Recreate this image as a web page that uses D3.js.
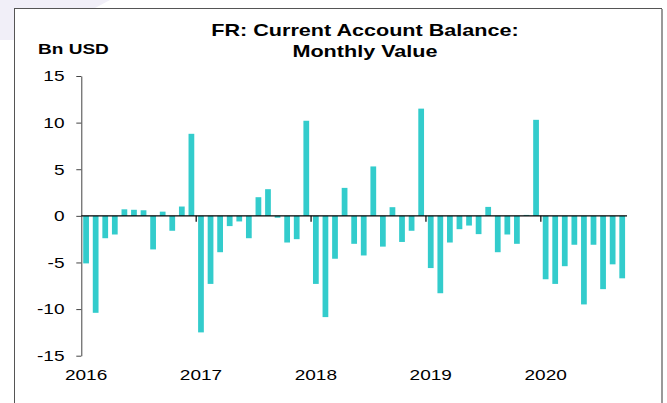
<!DOCTYPE html>
<html>
<head>
<meta charset="utf-8">
<script src="https://cdn.jsdelivr.net/npm/d3@7"></script>
<style>
  body { margin: 0; background: #fff; }
  svg { display: block; font-family: "Liberation Sans", Arial, sans-serif; }
</style>
</head>
<body>
<script>
// monthly current account balance, Bn USD
var years = ["2016", "2017", "2018", "2019", "2020"];
var v2016 = [-5.1, -10.4, -2.4, -2.0, 0.7, 0.65, 0.6, -3.6, 0.45, -1.6, 1.0, 8.8];
var v2017 = [-12.5, -7.3, -3.9, -1.1, -0.6, -2.4, 2.0, 2.86, -0.2, -2.86, -2.5, 10.2];
var v2018 = [-7.3, -10.86, -4.6, 3.0, -3.0, -4.25, 5.3, -3.3, 0.93, -2.8, -1.6, 11.5];
var v2019 = [-5.6, -8.3, -2.86, -1.43, -1.04, -1.96, 0.96, -3.9, -2.0, -3.0, 0.1, 10.3];
var v2020 = [-6.8, -7.3, -5.4, -3.1, -9.5, -3.1, -7.86, -5.2, -6.7];
var yTicks = [-15, -10, -5, 0, 5, 10, 15];

var data = [];
[v2016, v2017, v2018, v2019, v2020].forEach(function(vals, i) {
  vals.forEach(function(v, m) {
    data.push({key: years[i] + "-" + (m + 1), year: years[i], month: m, value: v});
  });
});

var width = 667, height = 403;
var sx = 1.27; // the original's lettering is stretched sideways
var svg = d3.select("body").append("svg").attr("width", width).attr("height", height);

// faint decoration top-left and frame
svg.append("path").attr("d", "M0,0 L110,0 L95,8 L14,8 L14,40 L0,40 Z").attr("fill", "#f1eff8");
svg.append("rect").attr("x", 14.5).attr("y", 8.5).attr("width", 647).attr("height", 420)
   .attr("fill", "none").attr("stroke", "#555").attr("stroke-width", 1);
svg.append("line").attr("x1", 662).attr("x2", 662).attr("y1", 9).attr("y2", 403)
   .attr("stroke", "#999").attr("stroke-width", 2);

var pad = 0.4;
var x = d3.scaleBand()
          .domain(data.map(function(d){ return d.key; }))
          .range([81.3, 627])
          .paddingInner(pad)
          .paddingOuter(pad / 2);
var y = d3.scaleLinear().domain([-15, 15]).range([355.7, 76]);

function slotStart(key) { return x(key) - x.step() * pad / 2; }

function label(g, tx, ty, str, size, bold, anchor) {
  return g.append("text")
    .attr("transform", "translate(" + tx + "," + ty + ") scale(" + sx + ",1)")
    .attr("text-anchor", anchor || "start")
    .attr("font-size", size + "px")
    .attr("font-weight", bold ? "bold" : "normal")
    .attr("fill", "#000")
    .text(str);
}

// title
label(svg, 365, 36, "FR: Current Account Balance:", 17, true, "middle");
label(svg, 365, 57, "Monthly Value", 17, true, "middle");
label(svg, 38, 54, "Bn USD", 15, true);

// y axis
var yAxis = d3.axisLeft(y).tickValues(yTicks).tickSize(5).tickSizeOuter(0)
              .tickFormat(function(d){ return ""; });
var yg = svg.append("g").attr("class", "y axis").attr("transform", "translate(81.3,0)").call(yAxis);
yg.select(".domain").attr("stroke", "#444");
yg.selectAll(".tick line").attr("stroke", "#444");
yTicks.forEach(function(t) {
  label(svg, 64.5, y(t) + 5.3, String(t), 15, false, "end");
});

// bars
svg.append("g").selectAll("rect").data(data).enter().append("rect")
   .attr("x", function(d){ return x(d.key); })
   .attr("width", x.bandwidth())
   .attr("y", function(d){ return y(Math.max(0, d.value)); })
   .attr("height", function(d){ return Math.abs(y(d.value) - y(0)); })
   .attr("fill", "#33cccc");

// zero line with year ticks
svg.append("line").attr("x1", 81.3).attr("x2", 627).attr("y1", y(0)).attr("y2", y(0))
   .attr("stroke", "#000").attr("stroke-width", 1.2);
var yearKeys = years.map(function(yr){ return yr + "-1"; });
svg.append("g").selectAll("line").data(yearKeys.slice(1)).enter().append("line")
   .attr("x1", function(k){ return slotStart(k); })
   .attr("x2", function(k){ return slotStart(k); })
   .attr("y1", y(0)).attr("y2", y(0) + 6)
   .attr("stroke", "#000").attr("stroke-width", 1.2);

// year labels at bottom
years.forEach(function(yr) {
  label(svg, x(yr + "-1") + x.bandwidth() / 2, 380, yr, 15, false, "middle");
});
</script>
</body>
</html>
